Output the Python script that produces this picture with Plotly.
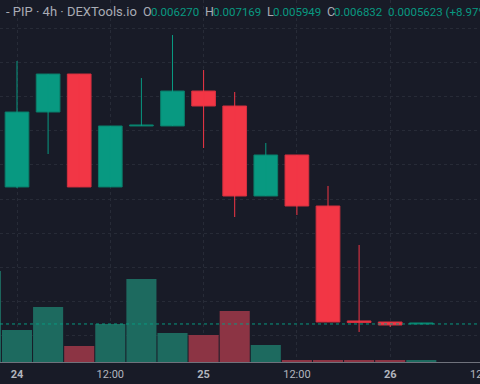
import plotly.graph_objects as go

# ---- data ----
candle_times = ["2024-05-24 00:00", "2024-05-24 04:00", "2024-05-24 08:00", "2024-05-24 12:00",
                "2024-05-24 16:00", "2024-05-24 20:00", "2024-05-25 00:00", "2024-05-25 04:00",
                "2024-05-25 08:00", "2024-05-25 12:00", "2024-05-25 16:00", "2024-05-25 20:00",
                "2024-05-26 00:00", "2024-05-26 04:00"]
opens  = [0.005677, 0.006773, 0.007329, 0.005677, 0.006569, 0.006569, 0.007080,
          0.006861, 0.005545, 0.006145, 0.005399, 0.003718, 0.003703, 0.003674]
highs  = [0.007519, 0.007329, 0.007329, 0.006569, 0.007270, 0.007899, 0.007387,
          0.007066, 0.006320, 0.006145, 0.005692, 0.004829, 0.003703, 0.003689]
lows   = [0.005660, 0.006159, 0.005677, 0.005677, 0.006569, 0.006569, 0.006247,
          0.005238, 0.005545, 0.005267, 0.003703, 0.003557, 0.003630, 0.003674]
closes = [0.006773, 0.007329, 0.005677, 0.006569, 0.006584, 0.007080, 0.006861,
          0.005545, 0.006145, 0.005399, 0.003703, 0.003696, 0.003659, 0.003689]

vol_times = ["2024-05-23 20:00"] + candle_times
volumes = [45500, 16000, 27500, 8000, 19000, 41500, 14500, 13500, 25500, 8500,
           700, 700, 700, 700, 600]
vol_up = [True] + [c >= o for o, c in zip(opens, closes)]

last_price = 0.003674

tick_vals = ["2024-05-24 00:00", "2024-05-24 12:00", "2024-05-25 00:00",
             "2024-05-25 12:00", "2024-05-26 00:00"]
tick_text = ["<b>24</b>", "12:00", "<b>25</b>", "12:00", "<b>26</b>"]

# (text, left x px, colour, font size)
header_parts = [
    ("- PIP · 4h · DEXTools.io", 5, "#a9acb5", 13),
    ("O", 142, "#a9acb5", 12.5), ("0.006270", 150, "#089981", 11.5),
    ("H", 204, "#a9acb5", 12.5), ("0.007169", 212, "#089981", 11.5),
    ("L", 266, "#a9acb5", 12.5), ("0.005949", 272, "#089981", 11.5),
    ("C", 326, "#a9acb5", 12.5), ("0.006832", 333, "#089981", 11.5),
    ("0.0005623 (+8.97%)", 387, "#089981", 11.5),
]

# ---- styles ----
BG = "#181b27"
GREEN = "#089981"
RED = "#f23645"
GREEN_VOL = "#1d6a5f"
RED_VOL = "#8c3444"
HOUR = 3600 * 1000

W, H = 480, 384
PLOT_H = 362

fig = go.Figure()

# volume
fig.add_trace(go.Bar(
    x=vol_times, y=volumes, yaxis="y2",
    width=[3.87 * HOUR] * len(volumes),
    marker=dict(color=[GREEN_VOL if u else RED_VOL for u in vol_up], line=dict(width=0)),
    hoverinfo="skip", showlegend=False))

# wicks
for up, col in [(True, GREEN), (False, RED)]:
    xs, ys = [], []
    for t, o, h, l, c in zip(candle_times, opens, highs, lows, closes):
        if (c >= o) == up:
            xs += [t, t, None]
            ys += [l, h, None]
    fig.add_trace(go.Scatter(x=xs, y=ys, mode="lines", line=dict(color=col, width=1),
                             hoverinfo="skip", showlegend=False))

# bodies
for up, col, lcol in [(True, GREEN, "#0a7d6a"), (False, RED, "#d3303f")]:
    xs, bases, hs = [], [], []
    for t, o, c in zip(candle_times, opens, closes):
        if (c >= o) == up:
            xs.append(t)
            bases.append(min(o, c))
            hs.append(abs(c - o))
    fig.add_trace(go.Bar(x=xs, y=hs, base=bases, width=[3.05 * HOUR] * len(xs),
                         marker=dict(color=col, line=dict(color=lcol, width=1)),
                         hoverinfo="skip", showlegend=False))

# current price dotted line
fig.add_shape(type="line", xref="paper", x0=0, x1=1, yref="y", y0=last_price, y1=last_price,
              line=dict(color=GREEN, width=1, dash="dot"))

# header
for txt, px, col, fs in header_parts:
    fig.add_annotation(text=txt, xref="paper", yref="paper", x=px / W, y=1 - 11.5 / PLOT_H,
                       xanchor="left", yanchor="middle", showarrow=False, borderpad=0,
                       font=dict(family="Roboto", size=fs, color=col))

# clipped last tick label
fig.add_annotation(text="12:00", xref="paper", yref="paper", x=483 / W, y=-(374.5 - PLOT_H) / PLOT_H,
                   xanchor="center", yanchor="middle", showarrow=False, borderpad=0,
                   font=dict(family="Roboto", size=11, color="#b2b5be"))

fig.update_layout(
    width=W, height=H, margin=dict(l=0, r=0, t=0, b=H - PLOT_H),
    paper_bgcolor=BG, plot_bgcolor=BG, barmode="overlay", showlegend=False,
    xaxis=dict(type="date", range=["2024-05-23 21:48:47", "2024-05-26 11:33:00"],
               tickmode="array", tickvals=tick_vals, ticktext=tick_text,
               showgrid=True, gridcolor="#272b37", griddash="dot", gridwidth=1,
               showline=True, linecolor="#6f727c", linewidth=1, ticks="",
               ticklabelstandoff=2,
               tickfont=dict(family="Roboto", size=11, color="#b2b5be"),
               zeroline=False, fixedrange=True),
    yaxis=dict(range=[0.003118, 0.008411], tick0=0, dtick=0.0005, showticklabels=False,
               showgrid=True, gridcolor="#272b37", griddash="dot", gridwidth=1,
               zeroline=False, ticks=""),
    yaxis2=dict(overlaying="y", range=[0, 181000], visible=False, showgrid=False),
)

fig.write_html("out.html", config={"displayModeBar": False},
               post_script="document.body.style.margin='0';document.body.style.background='%s';"
                           "document.body.style.overflow='hidden';" % BG)
